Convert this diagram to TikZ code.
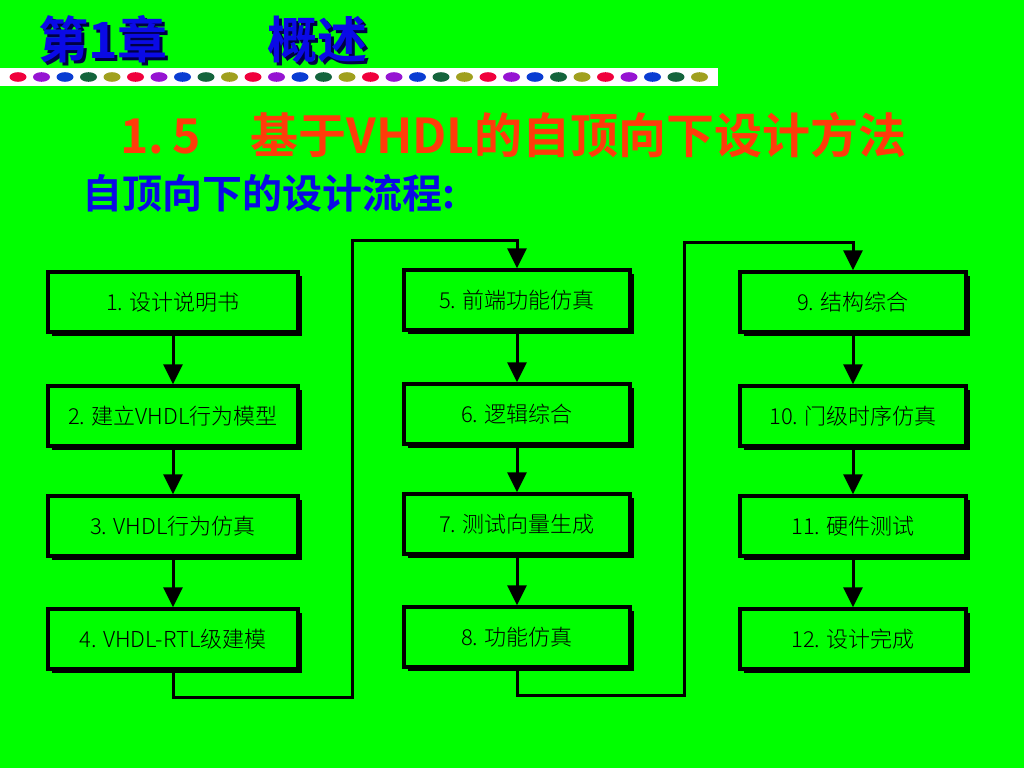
\documentclass[tikz,border=0pt]{standalone}
\usepackage{fontspec}
\newfontfamily\cjk{Noto Sans CJK SC}
\newfontfamily\cjkbold{Noto Sans CJK SC Bold}
\newfontfamily\cjklight{Noto Sans CJK SC Light}
\usetikzlibrary{arrows.meta,shadows}
\definecolor{bggreen}{RGB}{0,255,0}
\definecolor{titleblue}{RGB}{10,10,230}
\definecolor{titleshade}{RGB}{0,0,70}
\definecolor{headred}{RGB}{255,60,10}
\definecolor{dot0}{RGB}{240,0,60}
\definecolor{dot1}{RGB}{150,20,210}
\definecolor{dot2}{RGB}{10,60,210}
\definecolor{dot3}{RGB}{20,100,60}
\definecolor{dot4}{RGB}{160,160,30}
\tikzset{
  stepbox/.style={draw, line width=3.5pt, fill=bggreen, minimum height=60pt,
    inner sep=0pt, font=\cjklight\fontsize{22}{22}\selectfont,
    drop shadow={shadow xshift=3.5pt, shadow yshift=-3.5pt, fill=black, opacity=1}},
  wide/.style={minimum width=250pt},
  narrow/.style={minimum width=226pt},
  flow/.style={line width=3pt, -{Triangle[length=20pt,width=19pt]}}
}

\begin{document}
\begin{tikzpicture}[x=1pt, y=-1pt]
        \fill [bggreen] (0,0) rectangle (1024,768);
        \useasboundingbox (0,0) rectangle (1024,768);
        % chapter title
        \node [anchor=west, inner sep=0pt, text=titleshade, font=\cjkbold\fontsize{50}{50}\selectfont]
          at (41,42) {第1章\hspace{100pt}概述};
        \node (chap) [anchor=west, inner sep=0pt, text=titleblue, font=\cjkbold\fontsize{50}{50}\selectfont]
          at (38,39) {第1章\hspace{100pt}概述};
        \fill [white] (0,68) rectangle (718,86);
        \foreach \i [evaluate=\i as \k using {int(mod(\i,5))}] in {0,...,29}
          \fill [dot\k] (18+23.5*\i,77) ellipse [x radius=8.5, y radius=4.8];
        \node (head) [anchor=west, inner sep=0pt, text=headred, font=\cjkbold\fontsize{48}{48}\selectfont]
          at (120,135) {1.\hspace{8pt}5\hspace{50pt}基于VHDL的自顶向下设计方法};
        \node (sub) [anchor=west, inner sep=0pt, text=titleblue, font=\cjkbold\fontsize{40}{40}\selectfont]
          at (82,193) {自顶向下的设计流程:};
        % flow boxes
        \node (b1) [stepbox, wide] at (173,302) {1. 设计说明书};
        \node (b2) [stepbox, wide] at (173,416) {2. 建立VHDL行为模型};
        \node (b3) [stepbox, wide] at (173,526) {3. VHDL行为仿真};
        \node (b4) [stepbox, wide] at (173,639) {4. VHDL-RTL级建模};
        \node (b5) [stepbox, narrow] at (517,300) {5. 前端功能仿真};
        \node (b6) [stepbox, narrow] at (517,414) {6. 逻辑综合};
        \node (b7) [stepbox, narrow] at (517,524) {7. 测试向量生成};
        \node (b8) [stepbox, narrow] at (517,637) {8. 功能仿真};
        \node (b9) [stepbox, narrow] at (853,302) {9. 结构综合};
        \node (b10) [stepbox, narrow] at (853,416) {10. 门级时序仿真};
        \node (b11) [stepbox, narrow] at (853,526) {11. 硬件测试};
        \node (b12) [stepbox, narrow] at (853,639) {12. 设计完成};
        \coordinate (up1) at (352,240);
        \coordinate (up2) at (684,242);
        \foreach \a/\b in {b1/b2,b2/b3,b3/b4,b5/b6,b6/b7,b7/b8,b9/b10,b10/b11,b11/b12}
          \draw [flow] (\a) -- (\b);
        \draw [flow] (b4.south) -- ++(0,27) -| (up1) -| (b5.north);
        \draw [flow] (b8.south) -- ++(0,27) -| (up2) -| (b9.north);
      \end{tikzpicture}
\end{document}
